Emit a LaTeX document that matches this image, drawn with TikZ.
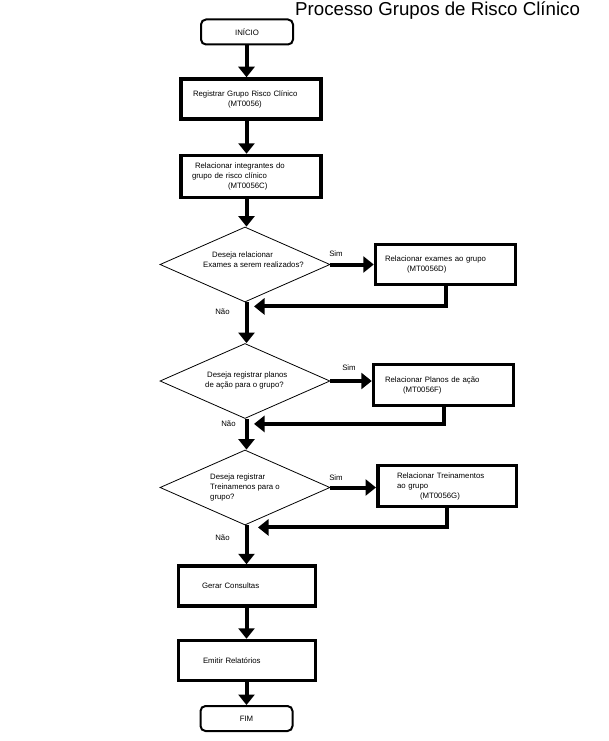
\documentclass[tikz,border=0pt]{standalone}
\usepackage{fontspec}
\setmainfont{Liberation Sans}
\usetikzlibrary{shapes.geometric,arrows.meta,calc}

\begin{document}
\begin{tikzpicture}[
    x=1pt, y=1pt,
    every node/.style={font=\fontsize{7.8}{10}\selectfont, inner sep=0pt},
    box/.style={rectangle, draw, line width=3.5pt, minimum width=140pt, minimum height=40pt, align=left},
    endbox/.style={rectangle, draw, line width=2pt, rounded corners=5pt, minimum width=92pt, minimum height=25pt},
    decision/.style={diamond, draw, line width=0.8pt, minimum width=170pt, minimum height=75pt},
    qtext/.style={anchor=west, align=left},
    arrow/.style={-{Triangle[length=10.5pt,width=16pt]}, line width=4pt},
    lbl/.style={font=\fontsize{7.8}{9}\selectfont}
]
\useasboundingbox (0,0) rectangle (609,-741);

% Title
\node[anchor=base west, font=\fontsize{18.7}{20}\selectfont] (title) at (295,-15.5) {Processo Grupos de Risco Clínico};

% Main column
\coordinate (spine) at (246.5,0);
\node[endbox] (start) at (247,-32) {INÍCIO};
\node[box, text width=116pt] (reg) at (251,-99) {Registrar Grupo Risco Clínico\\\hspace*{35pt}(MT0056)};
\node[box, text width=118pt, minimum height=42pt] (rel) at (251,-176.5) {\hspace*{3pt}Relacionar integrantes do\\grupo de risco clínico\\\hspace*{36pt}(MT0056C)};
\node[decision] (q1) at (245,-264.5) {};
\node[decision] (q2) at (245,-381) {};
\node[decision] (q3) at (245,-487.5) {};
\node[box, text width=90pt, minimum width=137pt] (gerar) at (247,-586) {Gerar Consultas};
\node[box, text width=88pt, minimum width=137pt] (emitir) at (247,-660.5) {Emitir Relatórios};
\node[endbox] (fim) at (246.5,-718.5) {FIM};

% Questions
\node[qtext] (q1text) at (203,-259.5) {\hspace*{9pt}Deseja relacionar\\Exames a serem realizados?};
\node[qtext] (q2text) at (205,-380) {\hspace*{2pt}Deseja registrar planos\\de ação para o grupo?};
\node[qtext] (q3text) at (210,-487.5) {Deseja registrar\\Treinamenos para o\\grupo?};

% Side boxes
\node[box, text width=121pt] (s1) at (445.5,-264.5) {Relacionar exames ao grupo\\\hspace*{22pt}(MT0056D)};
\node[box, text width=117pt, minimum height=41pt] (s2) at (443.5,-385) {Relacionar Planos de ação\\\hspace*{18pt}(MT0056F)};
\node[box, text width=100pt, minimum width=138.5pt, minimum height=41pt] (s3) at (447,-486) {Relacionar Treinamentos\\ao grupo\\\hspace*{23pt}(MT0056G)};

% Answers
\node[lbl] (sim1) at (336,-254) {Sim};
\node[lbl] (sim2) at (349,-368) {Sim};
\node[lbl] (sim3) at (336,-478) {Sim};
\node[lbl] (nao1) at (222.5,-312) {Não};
\node[lbl] (nao2) at (228.5,-424) {Não};
\node[lbl] (nao3) at (222.5,-538) {Não};

% Flow down the column
\draw[arrow] (start.south -| spine) -- (reg.north -| spine);
\draw[arrow] (reg.south -| spine) -- (rel.north -| spine);
\draw[arrow] (rel.south -| spine) -- (q1.north -| spine);
\draw[arrow] (q1.south -| spine) -- (q2.north -| spine);
\draw[arrow] (q2.south -| spine) -- (q3.north -| spine);
\draw[arrow] (q3.south -| spine) -- (gerar.north -| spine);
\draw[arrow] (gerar.south -| spine) -- (emitir.north -| spine);
\draw[arrow] (emitir.south -| spine) -- (fim.north -| spine);

% Sim branches and returns
\draw[arrow] (q1.east) -- (q1.east -| s1.west);
\draw[arrow] (s1.south) |- ([shift={(9,-4)}]q1.south);
\draw[arrow] (q2.east) -- (q2.east -| s2.west);
\draw[arrow] (s2.south) |- ([shift={(9,-5)}]q2.south);
\draw[arrow] (q3.east) -- (q3.east -| s3.west);
\draw[arrow] (s3.south) |- ([shift={(13,-2)}]q3.south);

\end{tikzpicture}
\end{document}
